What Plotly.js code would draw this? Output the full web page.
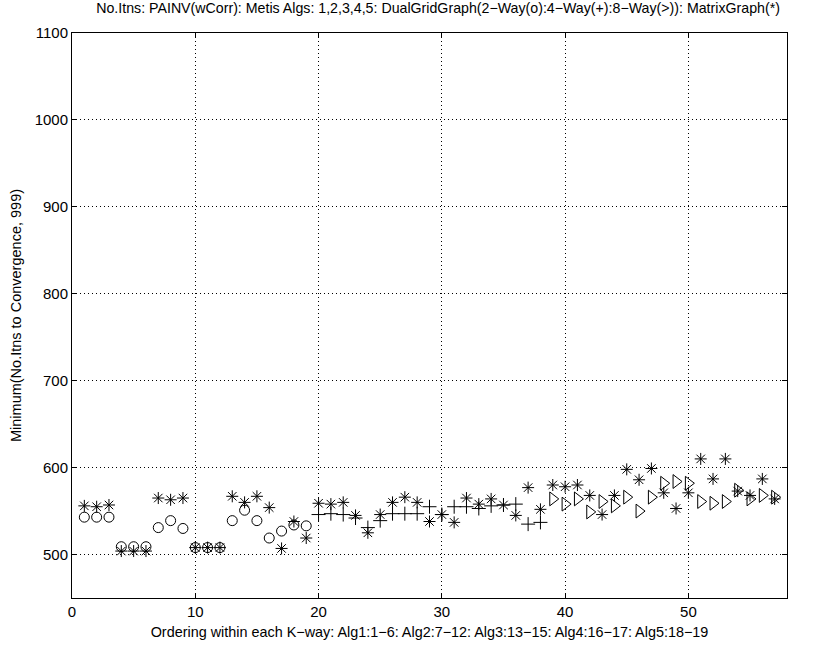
<!DOCTYPE html>
<html>
<head>
<meta charset="utf-8">
<script src="https://cdn.plot.ly/plotly-3.0.1.min.js"></script>
<style>html,body{margin:0;padding:0;background:#fff;}#chart{width:819px;height:647px;}</style>
</head>
<body>
<div id="chart"></div>
<script>
// 2-Way DualGridGraph (o), orderings 1..19
const twoWayX = [1,2,3,4,5,6,7,8,9,10,11,12,13,14,15,16,17,18,19];
const twoWayY = [543,543,543,509,509,509,531,539,530,508,508,508,539,551,539,519,527,534,533];
// 4-Way DualGridGraph (+), orderings 20..38
const fourWayX = [20,21,22,23,24,25,26,27,28,29,30,31,32,33,34,35,36,37,38];
const fourWayY = [546,547,546,542,531,539,547,547,547,555,546,555,555,553,556,557,558,535,537];
// 8-Way DualGridGraph (>), orderings 39..57
const eightWayX = [39,40,41,42,43,44,45,46,47,48,49,50,51,52,53,54,55,56,57];
const eightWayY = [564,558,564,549,561,556,566,550,566,582,584,582,561,559,561,574,564,568,566];
// MatrixGraph (*), orderings 1..57
const matrixX = [1,2,3,4,5,6,7,8,9,10,11,12,13,14,15,16,17,18,19,20,21,22,23,24,25,26,27,28,29,30,31,32,33,34,35,36,37,38,39,40,41,42,43,44,45,46,47,48,49,50,51,52,53,54,55,56,57];
const matrixY = [556,555,557,504,504,504,565,563,565,508,508,508,567,560,567,554,507,538,519,
                 559,558,560,545,525,546,560,566,560,538,546,537,565,558,564,557,545,577,552,
                 580,578,580,568,546,568,598,586,599,571,553,571,610,587,610,573,568,587,564];
const xTicks = [0,10,20,30,40,50];
const yTicks = [500,600,700,800,900,1000,1100];

const mk = (sym, size) => ({symbol: sym, size: size, color: '#000', line: {color: '#000', width: 1}});
const traces = [
  {x: twoWayX, y: twoWayY, type: 'scatter', mode: 'markers', marker: mk('circle-open', 10), name: '2-Way'},
  {x: fourWayX, y: fourWayY, type: 'scatter', mode: 'markers', marker: mk('cross-thin-open', 10), name: '4-Way'},
  {x: eightWayX, y: eightWayY, type: 'scatter', mode: 'markers', marker: mk('triangle-right-open', 12), name: '8-Way'},
  {x: matrixX, y: matrixY, type: 'scatter', mode: 'markers', marker: mk('asterisk-open', 10), name: 'MatrixGraph'}
];

const font = {family: 'Liberation Sans, Arial, Helvetica, sans-serif', color: '#000'};
const layout = {
  width: 819, height: 647,
  margin: {l: 72, r: 32, t: 33, b: 49},
  paper_bgcolor: '#fff', plot_bgcolor: '#fff',
  showlegend: false,
  font: Object.assign({size: 15}, font),
  title: {
    text: 'No.Itns: PAINV(wCorr): Metis Algs: 1,2,3,4,5: DualGridGraph(2\u2212Way(o):4\u2212Way(+):8\u2212Way(>)): MatrixGraph(*)',
    font: Object.assign({size: 14.2}, font),
    xref: 'paper', x: 0.512, xanchor: 'center',
    yref: 'container', y: 0.995, yanchor: 'top'
  },
  xaxis: {
    range: [0, 58], tickvals: xTicks, ticktext: xTicks.map(String),
    showgrid: true, gridcolor: '#000', griddash: '1px,3px', gridwidth: 1,
    zeroline: false, showline: true, linecolor: '#000', linewidth: 1, mirror: 'ticks',
    ticks: 'inside', ticklen: 5, tickcolor: '#000',
    tickfont: Object.assign({size: 15}, font),
    title: {text: 'Ordering within each K\u2212way: Alg1:1\u22126: Alg2:7\u221212: Alg3:13\u221215: Alg4:16\u221217: Alg5:18\u221219', font: Object.assign({size: 14.4}, font), standoff: 7}
  },
  yaxis: {
    range: [450, 1100], tickvals: yTicks, ticktext: yTicks.map(String),
    showgrid: true, gridcolor: '#000', griddash: '1px,3px', gridwidth: 1,
    zeroline: false, showline: true, linecolor: '#000', linewidth: 1, mirror: 'ticks',
    ticks: 'inside', ticklen: 5, tickcolor: '#000',
    tickfont: Object.assign({size: 15}, font),
    title: {text: 'Minimum(No.Itns to Convergence, 999)', font: Object.assign({size: 14.5}, font), standoff: 9}
  }
};
Plotly.newPlot('chart', traces, layout, {displayModeBar: false, staticPlot: true});
</script>
</body>
</html>
